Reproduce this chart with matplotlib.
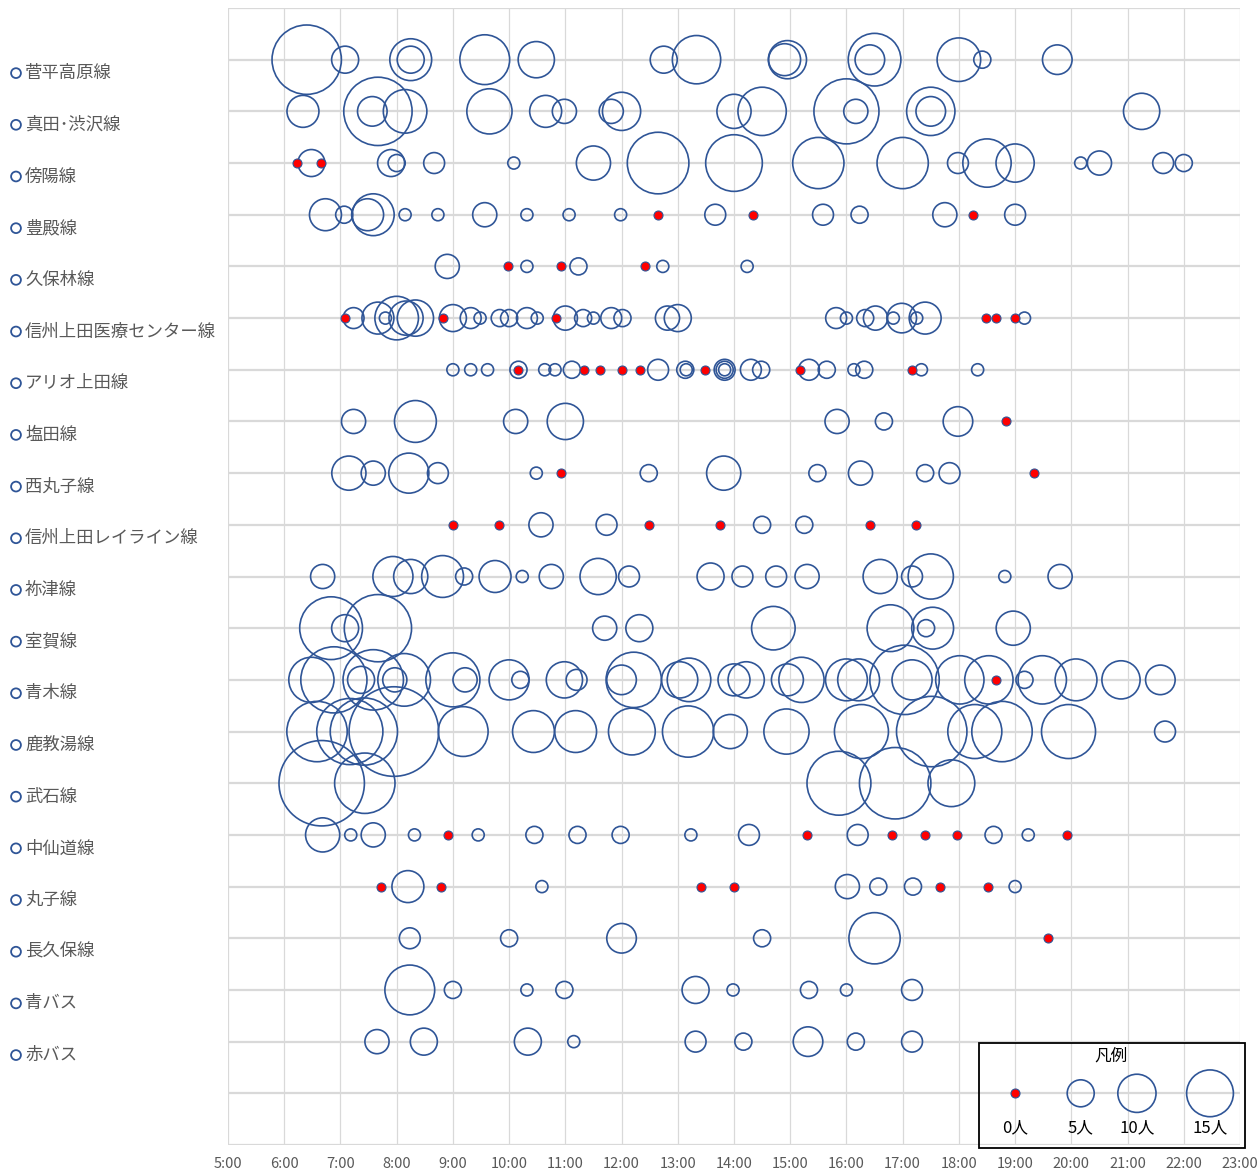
import matplotlib.pyplot as plt
from matplotlib.patches import Rectangle
from matplotlib.transforms import blended_transform_factory

plt.rcParams['font.family'] = ['Noto Sans CJK JP', 'DejaVu Sans']

routes = ['菅平高原線', '真田･渋沢線', '傍陽線', '豊殿線', '久保林線',
          '信州上田医療センター線', 'アリオ上田線', '塩田線', '西丸子線',
          '信州上田レイライン線', '祢津線', '室賀線', '青木線', '鹿教湯線',
          '武石線', '中仙道線', '丸子線', '長久保線', '青バス', '赤バス']

# departure time and passengers per trip, one pair of lists per route
sugadaira_t = ['6:24', '7:05', '8:15', '8:15', '9:34', '10:29', '12:45', '13:20', '14:54', '14:57',
               '16:25', '16:30', '18:00', '18:25', '19:45']
sugadaira_n = [33, 5, 12, 5, 17, 9, 5, 16, 7, 10, 6, 19, 13, 2, 6]

sanada_t = ['6:20', '7:34', '7:40', '8:09', '9:39', '10:39', '10:59', '11:49', '12:00', '14:00',
            '14:30', '16:00', '16:10', '17:30', '17:30', '21:15']
sanada_n = [7, 6, 32, 13, 14, 7, 4, 4, 10, 8, 16, 29, 4, 16, 6, 9]

soea_t = ['6:14', '6:29', '6:39', '7:54', '8:00', '8:40', '10:05', '11:30', '12:39', '14:00',
          '15:30', '17:00', '17:59', '18:30', '19:00', '20:10', '20:30', '21:38', '22:00']
soea_n = [0, 5, 0, 5, 2, 3, 1, 8, 26, 22, 18, 18, 3, 16, 10, 1, 4, 3, 2]

toyodono_t = ['6:44', '7:04', '7:29', '7:35', '8:09', '8:44', '9:34', '10:19', '11:04', '11:59',
              '12:39', '13:40', '14:20', '15:35', '16:14', '17:45', '18:15', '19:00']
toyodono_n = [7, 2, 7, 12, 1, 1, 4, 1, 1, 1, 0, 3, 0, 3, 2, 4, 0, 3]

kubo_t = ['8:54', '9:59', '10:19', '10:55', '11:14', '12:25', '12:44', '14:14']
kubo_n = [4, 0, 1, 0, 2, 0, 1, 1]

iryo_t = ['7:05', '7:14', '7:40', '7:48', '8:00', '8:10', '8:20', '8:49', '9:00', '9:19',
          '9:29', '9:50', '10:00', '10:19', '10:30', '10:50', '11:00', '11:19', '11:30', '11:49',
          '12:01', '12:49', '13:00', '15:49', '16:00', '16:20', '16:31', '16:50', '16:59', '17:15',
          '17:24', '18:29', '18:40', '19:00', '19:10']
iryo_n = [0, 3, 7, 1, 13, 8, 9, 0, 5, 3, 1, 2, 2, 3, 1, 0, 4, 2, 1, 3,
          2, 4, 5, 3, 1, 2, 4, 1, 6, 1, 7, 0, 0, 0, 1]

ario_t = ['9:00', '9:19', '9:37', '10:10', '10:10', '10:38', '10:49', '11:07', '11:20', '11:37',
          '12:00', '12:20', '12:39', '13:08', '13:09', '13:29', '13:50', '13:50', '13:50', '14:18',
          '14:29', '15:10', '15:20', '15:39', '16:08', '16:19', '17:10', '17:20', '18:20']
ario_n = [1, 1, 1, 2, 0, 1, 1, 2, 0, 0, 0, 0, 3, 2, 1, 0, 3, 2, 1, 3,
          2, 0, 3, 2, 1, 2, 0, 1, 1]

shioda_t = ['7:14', '8:20', '10:07', '11:00', '15:50', '16:40', '17:59', '18:50']
shioda_n = [4, 12, 4, 9, 4, 2, 6, 0]

nishimaruko_t = ['7:09', '7:35', '8:13', '8:44', '10:29', '10:55', '12:29', '13:49', '15:29',
                 '16:15', '17:24', '17:50', '19:20']
nishimaruko_n = [8, 4, 11, 3, 1, 0, 2, 8, 2, 4, 2, 3, 0]

leyline_t = ['9:00', '9:49', '10:34', '11:44', '12:29', '13:45', '14:30', '15:15', '16:25', '17:14']
leyline_n = [0, 0, 4, 3, 0, 0, 2, 2, 0, 0]

netsu_t = ['6:41', '7:56', '8:15', '8:49', '9:12', '9:45', '10:14', '10:45', '11:35', '12:08',
           '13:35', '14:09', '14:45', '15:18', '16:36', '17:10', '17:30', '18:49', '19:48']
netsu_n = [4, 11, 8, 12, 2, 7, 1, 4, 9, 3, 5, 3, 3, 4, 8, 3, 14, 1, 4]

muroga_t = ['6:50', '7:05', '7:40', '11:42', '12:19', '14:42', '16:47', '17:25', '17:32', '18:58']
muroga_n = [27, 5, 31, 4, 5, 13, 15, 2, 12, 8]

aoki_t = ['6:29', '6:53', '7:22', '7:35', '7:58', '8:08', '9:00', '9:13', '10:00', '10:12',
          '10:59', '11:12', '12:00', '12:13', '13:02', '13:12', '14:00', '14:13', '14:57', '15:12',
          '16:00', '16:13', '17:02', '17:10', '18:01', '18:32', '18:40', '19:10', '19:29', '20:05',
          '20:53', '21:35']
aoki_n = [14, 30, 5, 25, 4, 19, 20, 4, 11, 2, 9, 3, 6, 21, 9, 13, 7, 9, 7, 14,
          12, 12, 33, 11, 16, 16, 0, 2, 16, 12, 10, 6]

kakeyu_t = ['6:35', '7:10', '7:25', '7:57', '9:11', '10:26', '11:11', '12:11', '13:11', '13:56',
            '14:56', '16:16', '17:31', '18:17', '18:46', '19:57', '21:40']
kakeyu_n = [25, 30, 31, 55, 17, 12, 12, 15, 18, 8, 14, 20, 34, 20, 25, 20, 3]

takeshi_t = ['6:40', '7:26', '15:52', '16:52', '17:52']
takeshi_n = [50, 25, 28, 35, 15]

nakasendo_t = ['6:41', '7:11', '7:35', '8:19', '8:55', '9:27', '10:27', '11:13', '11:59', '13:14',
               '14:16', '15:18', '16:12', '16:49', '17:24', '17:58', '18:37', '19:14', '19:55']
nakasendo_n = [8, 1, 4, 1, 0, 1, 2, 2, 2, 1, 3, 0, 3, 0, 0, 0, 2, 1, 0]

maruko_t = ['7:43', '8:12', '8:47', '10:35', '13:25', '14:00', '16:01', '16:34', '17:11', '17:40',
            '18:31', '19:00']
maruko_n = [0, 7, 0, 1, 0, 0, 4, 2, 2, 0, 0, 1]

nagakubo_t = ['8:14', '10:00', '12:00', '14:30', '16:30', '19:35']
nagakubo_n = [3, 2, 6, 2, 18, 0]

aobus_t = ['8:14', '9:00', '10:19', '10:59', '13:19', '13:59', '15:20', '16:00', '17:10']
aobus_n = [17, 2, 1, 2, 5, 1, 2, 1, 3]

akabus_t = ['7:39', '8:29', '10:20', '11:09', '13:19', '14:10', '15:19', '16:10', '17:10']
akabus_n = [4, 5, 5, 1, 3, 2, 6, 2, 3]

# sample bubbles shown in the 凡例 box
legend_t = ['19:00', '20:10', '21:10', '22:28']
legend_n = [0, 5, 10, 15]
legend_labels = ['0人', '5人', '10人', '15人']

hours = list(range(5, 24))

all_t = [sugadaira_t, sanada_t, soea_t, toyodono_t, kubo_t, iryo_t, ario_t, shioda_t,
         nishimaruko_t, leyline_t, netsu_t, muroga_t, aoki_t, kakeyu_t, takeshi_t,
         nakasendo_t, maruko_t, nagakubo_t, aobus_t, akabus_t]
all_n = [sugadaira_n, sanada_n, soea_n, toyodono_n, kubo_n, iryo_n, ario_n, shioda_n,
         nishimaruko_n, leyline_n, netsu_n, muroga_n, aoki_n, kakeyu_n, takeshi_n,
         nakasendo_n, maruko_n, nagakubo_n, aobus_n, akabus_n]


def to_hour(t):
    h, m = t.split(':')
    return int(h) + int(m) / 60


blue = '#2f5597'
grey = '#595959'
k = 75.6       # points^2 per passenger (bubble area ~ count)

W, H = 1260, 1175
fig = plt.figure(figsize=(W / 100, H / 100), dpi=100)
ax = fig.add_axes([228 / W, 1 - 1145 / H, (1240 - 228) / W, (1145 - 8) / H])
ax.set_xlim(5, 23)
ax.set_ylim(0, 22)

# collect everything, draw open bubbles then red zero dots on top
xs, ys, ss, x0, y0 = [], [], [], [], []
rows = list(zip(all_t, all_n, [21 - i for i in range(len(routes))])) + [(legend_t, legend_n, 1)]
for ts, ns, yrow in rows:
    for t, n in zip(ts, ns):
        if n == 0:
            x0.append(to_hour(t))
            y0.append(yrow)
        else:
            xs.append(to_hour(t))
            ys.append(yrow)
            ss.append(k * n)
ax.scatter(xs, ys, s=ss, facecolors='none', edgecolors=blue, linewidths=1.2, zorder=3, clip_on=False)
ax.scatter(x0, y0, s=42, facecolors='#ff0000', edgecolors=blue, linewidths=0.8, zorder=4, clip_on=False)

ax.set_xticks(hours)
ax.set_xticklabels([f'{h}:00' for h in hours], color=grey, fontsize=10.5)
ax.set_yticks(range(0, 23))
ax.set_yticklabels([])
ax.tick_params(length=0, pad=9)
ax.grid(axis='x', color='#d9d9d9', linewidth=0.9, zorder=0)
ax.grid(axis='y', color='#d9d9d9', linewidth=1.6, zorder=0)
ax.set_axisbelow(True)
for sp in ax.spines.values():
    sp.set_visible(False)

# route labels on the left
tr = blended_transform_factory(fig.transFigure, ax.transData)
for i, name in enumerate(routes):
    yrow = 21 - i - 0.26
    ax.scatter([16 / W], [yrow], s=50, facecolors='none', edgecolors=blue, linewidths=1.3,
               transform=tr, clip_on=False)
    ax.text(25 / W, yrow, name, transform=tr, ha='left', va='center', fontsize=12.5, color=grey)

# 凡例 box
fig.add_artist(Rectangle((979 / W, 1 - 1148 / H), (1245 - 979) / W, (1148 - 1043) / H,
                         transform=fig.transFigure, fill=False, edgecolor='black', linewidth=1.3))
fig.text(1111 / W, 1 - 1056 / H, '凡例', ha='center', va='center', fontsize=12)
for t, lab in zip(legend_t, legend_labels):
    ax.text(to_hour(t), 0.33, lab, ha='center', va='center', fontsize=12)

fig.savefig('out.png', dpi=100)
